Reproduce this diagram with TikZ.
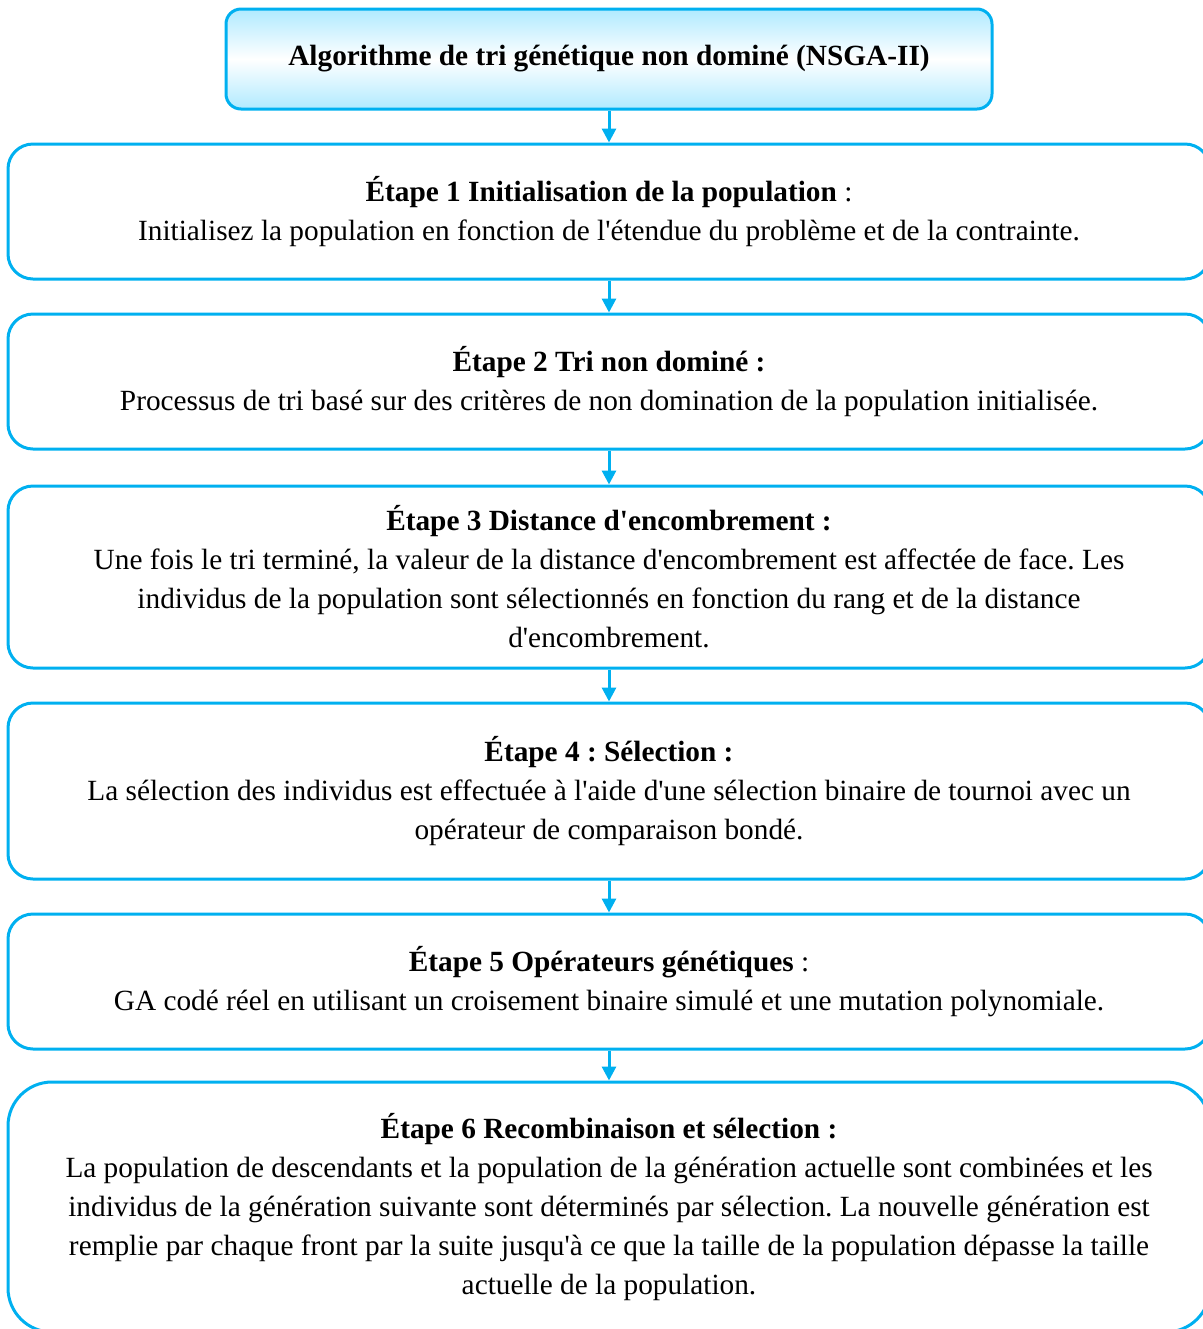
\documentclass[tikz,border=0pt]{standalone}
\usepackage{fontspec}
\setmainfont{Liberation Serif}[Ligatures=TeXOff]
\usetikzlibrary{arrows.meta}
\definecolor{sky}{HTML}{00B0F0}
\definecolor{skylight}{HTML}{B0EAFF}
\frenchspacing
\tikzset{
  stepbox/.style={draw=sky, line width=1.5pt, rounded corners=12.5pt, minimum width=601pt,
    align=center, inner sep=0pt, font=\fontsize{14.65}{19.5}\selectfont},
  headbox/.style={draw=sky, line width=1.5pt, rounded corners=7.5pt, minimum width=383pt,
    minimum height=50pt, top color=skylight, bottom color=skylight, middle color=white,
    align=center, font=\fontsize{14.65}{19.5}\selectfont\bfseries},
  link/.style={draw=sky, line width=1.5pt, -{Triangle[width=7pt,length=7pt]}}
}
\begin{document}
\begin{tikzpicture}[x=0.5pt,y=-0.5pt]
\useasboundingbox (0,0) rectangle (1203,1329);
\node[headbox] (h) at (609,59) {Algorithme de tri génétique non dominé (NSGA-II)};
\node[stepbox, minimum height=67.5pt] (s1) at (609,211.5)
  {\textbf{Étape 1 Initialisation de la population} :\\
   Initialisez la population en fonction de l'étendue du problème et de la contrainte.};
\node[stepbox, minimum height=67.5pt] (s2) at (609,381.5)
  {\textbf{Étape 2 Tri non dominé :}\\
   Processus de tri basé sur des critères de non domination de la population initialisée.};
\node[stepbox, minimum height=91pt] (s3) at (609,577)
  {\textbf{Étape 3 Distance d'encombrement :}\\
   Une fois le tri terminé, la valeur de la distance d'encombrement est affectée de face. Les\\
   individus de la population sont sélectionnés en fonction du rang et de la distance\\
   d'encombrement.};
\node[stepbox, minimum height=88pt] (s4) at (609,791)
  {\textbf{Étape 4 : Sélection :}\\
   La sélection des individus est effectuée à l'aide d'une sélection binaire de tournoi avec un\\
   opérateur de comparaison bondé.};
\node[stepbox, minimum height=67.5pt] (s5) at (609,981.5)
  {\textbf{Étape 5 Opérateurs génétiques} :\\
   GA codé réel en utilisant un croisement binaire simulé et une mutation polynomiale.};
\node[stepbox, minimum height=125pt, rounded corners=22pt] (s6) at (609,1207)
  {\textbf{Étape 6 Recombinaison et sélection :}\\
   La population de descendants et la population de la génération actuelle sont combinées et les\\
   individus de la génération suivante sont déterminés par sélection. La nouvelle génération est\\
   remplie par chaque front par la suite jusqu'à ce que la taille de la population dépasse la taille\\
   actuelle de la population.};
\draw[link] (h.south) -- (s1.north);
\draw[link] (s1.south) -- (s2.north);
\draw[link] (s2.south) -- (s3.north);
\draw[link] (s3.south) -- (s4.north);
\draw[link] (s4.south) -- (s5.north);
\draw[link] (s5.south) -- (s6.north);
\end{tikzpicture}
\end{document}
